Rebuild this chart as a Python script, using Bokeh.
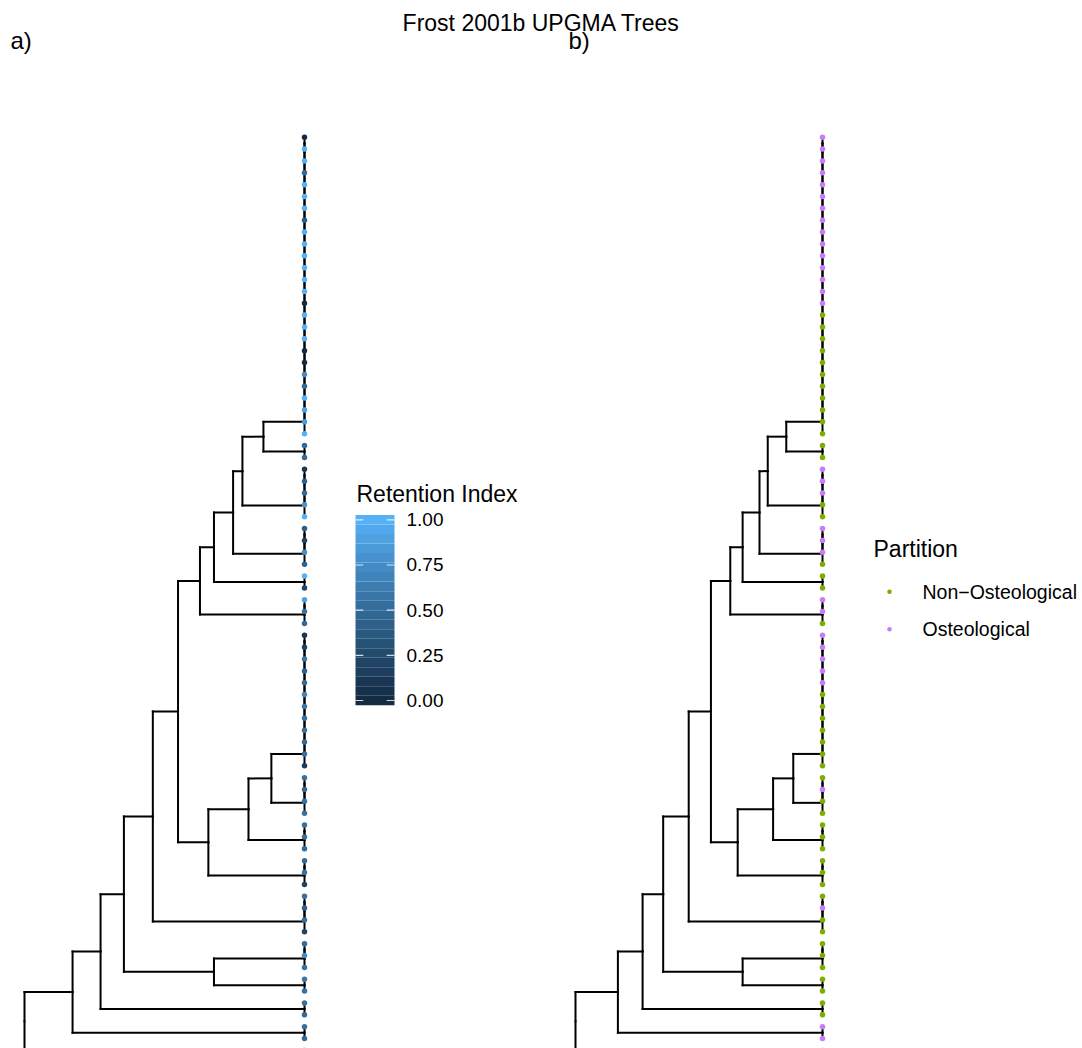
import numpy as np
from bokeh.plotting import figure
from bokeh.layouts import column, row
from bokeh.models import Range1d, ColumnDataSource
from bokeh.core.properties import value
from bokeh.embed import file_html
from bokeh.resources import INLINE

FONT = "Liberation Sans"

# ---- data -------------------------------------------------------------
# per-tip values, tips listed top to bottom (last tip falls below the frame)
retention_index = [
    0.00, 1.00, 1.00, 0.50, 1.00, 1.00, 1.00, 0.40, 1.00, 1.00,
    1.00, 1.00, 1.00, 1.00, 0.00, 1.00, 1.00, 1.00, 0.00, 0.00,
    0.75, 0.50, 1.00, 0.90, 0.85, 1.00, 0.50, 0.50, 0.10, 0.45,
    0.50, 0.80, 1.00, 0.40, 0.20, 0.75, 0.45, 1.00, 0.20, 0.90,
    0.55, 0.50, 0.10, 0.20, 0.60, 0.45, 0.50, 0.70, 0.60, 0.55,
    0.55, 0.50, 0.55, 0.15, 0.55, 0.50, 0.55, 0.55, 0.55, 0.55,
    0.50, 0.50, 0.55, 0.20, 0.55, 0.45, 0.55, 0.20, 0.50, 0.75,
    0.55, 0.60, 0.55, 0.55, 0.50, 0.55, 0.50, 0.50,
]
N, O = "Non\u2212Osteological", "Osteological"
partition = (
    [O] * 15 + [N] * 13 + [O] * 3 + [N] * 2 + [O] * 3 + [N] * 3 + [O] * 2
    + [N] + [O] * 5 + [N] * 8 + [O] + [N] * 9 + [O] + [N] * 9 + [O] * 3
)

# tip clusters joined at zero distance: (first tip, last tip)
clusters = [(0, 25), (26, 27), (28, 32), (33, 36), (37, 38), (39, 41),
            (42, 53), (54, 57), (58, 60), (61, 63), (64, 67), (68, 70),
            (71, 72), (73, 74), (75, 76), (77, 77)]

# UPGMA joins: (child, child, height); "c#" = cluster, "n#" = earlier join
joins = [
    ("c0", "c1", 0.088),   # n0
    ("n0", "c2", 0.133),   # n1
    ("n1", "c3", 0.153),   # n2
    ("n2", "c4", 0.194),   # n3
    ("n3", "c5", 0.224),   # n4
    ("c6", "c7", 0.071),   # n5
    ("n5", "c8", 0.120),   # n6
    ("n6", "c9", 0.206),   # n7
    ("n4", "n7", 0.271),   # n8
    ("n8", "c10", 0.325),  # n9
    ("c11", "c12", 0.194), # n10
    ("n9", "n10", 0.387),  # n11
    ("n11", "c13", 0.437), # n12
    ("n12", "c14", 0.497), # n13
    ("n13", "c15", 0.600), # n14 (root)
]

ri_breaks = [0.0, 0.25, 0.5, 0.75, 1.0]
partition_levels = [N, O]
partition_colors = ["#7CAE00", "#C77CFF"]
ri_low, ri_high = "#132B43", "#56B1F7"


# ---- colour helpers (Lab interpolation, as in a ggplot gradient) ------
def _to_lab(hexc):
    rgb = np.array([int(hexc[i:i + 2], 16) / 255 for i in (1, 3, 5)])
    lin = np.where(rgb <= 0.04045, rgb / 12.92, ((rgb + 0.055) / 1.055) ** 2.4)
    m = np.array([[0.4124, 0.3576, 0.1805], [0.2126, 0.7152, 0.0722],
                  [0.0193, 0.1192, 0.9505]])
    xyz = m @ lin / np.array([0.95047, 1.0, 1.08883])
    f = np.where(xyz > 0.008856, np.cbrt(xyz), 7.787 * xyz + 16 / 116)
    return np.array([116 * f[1] - 16, 500 * (f[0] - f[1]), 200 * (f[1] - f[2])])


def _from_lab(lab):
    fy = (lab[0] + 16) / 116
    fx = fy + lab[1] / 500
    fz = fy - lab[2] / 200
    f = np.array([fx, fy, fz])
    xyz = np.where(f ** 3 > 0.008856, f ** 3, (f - 16 / 116) / 7.787)
    xyz = xyz * np.array([0.95047, 1.0, 1.08883])
    minv = np.array([[3.2406, -1.5372, -0.4986], [-0.9689, 1.8758, 0.0415],
                     [0.0557, -0.2040, 1.0570]])
    lin = minv @ xyz
    rgb = np.where(lin <= 0.0031308, 12.92 * lin, 1.055 * np.abs(lin) ** (1 / 2.4) - 0.055)
    rgb = np.clip(rgb, 0, 1)
    return "#%02x%02x%02x" % tuple(int(round(c * 255)) for c in rgb)


LAB_LO, LAB_HI = _to_lab(ri_low), _to_lab(ri_high)


def ri_color(v):
    return _from_lab(LAB_LO + (LAB_HI - LAB_LO) * float(v))


# ---- tree layout ------------------------------------------------------
def tree_segments():
    seg = dict(x0=[], y0=[], x1=[], y1=[])

    def add(x0, y0, x1, y1):
        seg["x0"].append(x0); seg["y0"].append(y0)
        seg["x1"].append(x1); seg["y1"].append(y1)

    pos = {}
    for k, (a, b) in enumerate(clusters):
        y = float(a)
        for t in range(a + 1, b + 1):
            ny = (y + t) / 2
            add(0.0, y, 0.0, ny)
            add(0.0, float(t), 0.0, ny)
            y = ny
        pos[f"c{k}"] = (0.0, y)
    for k, (l, r, h) in enumerate(joins):
        y = (pos[l][1] + pos[r][1]) / 2
        for c in (l, r):
            cx, cy = pos[c]
            add(h, cy, h, y)
            add(h, cy, cx, cy)
        pos[f"n{k}"] = (h, y)
    return seg


SEG = tree_segments()
TIPS = list(range(len(retention_index)))

# ---- page geometry -----------------------------------------------------
HEAD_H = 60
BODY_H = 1048 - HEAD_H
TIP0_PX = 136.7 - HEAD_H      # first tip, from top of panel
TIP_STEP = 11.86              # pixels between tips
ROOT_H = joins[-1][2]

y_tree = Range1d(start=(BODY_H - TIP0_PX) / TIP_STEP, end=-TIP0_PX / TIP_STEP)


def base_fig(w, h, xr, yr):
    p = figure(width=w, height=h, x_range=xr, y_range=yr,
               output_backend="svg", toolbar_location=None,
               min_border=0, outline_line_color=None,
               background_fill_color="white", border_fill_color="white")
    p.axis.visible = False
    p.grid.visible = False
    return p


def tree_fig(w, tip_px, root_px, colors):
    scale = (tip_px - root_px) / ROOT_H
    xr = Range1d(start=tip_px / scale, end=(tip_px - w) / scale)
    p = base_fig(w, BODY_H, xr, y_tree)
    p.segment(x0="x0", y0="y0", x1="x1", y1="y1", source=ColumnDataSource(SEG),
              line_color="black", line_width=2, line_cap="square")
    p.scatter(x=[0.0] * len(TIPS), y=TIPS, size=5.5, fill_color=colors,
              line_color=None)
    return p


def txt(p, x, y, s, size, align="left", **kw):
    p.text(x=[x], y=[y], text=[s], text_font=value(FONT),
           text_font_size=value(f"{size}px"), text_color="black",
           text_align=align, text_baseline="middle", **kw)


# ---- header ---------------------------------------------------------------
head = base_fig(1082, HEAD_H, Range1d(0, 1082), Range1d(HEAD_H, 0))
txt(head, 541, 22, "Frost 2001b UPGMA Trees", 23, align="center")
txt(head, 10, 40, "a)", 24)
txt(head, 568, 40, "b)", 24)

# ---- panel a: retention index -----------------------------------------
A_W, LA_W = 340, 201
tree_a = tree_fig(A_W, 304, 24, [ri_color(v) for v in retention_index])

leg_a = base_fig(LA_W, BODY_H, Range1d(0, LA_W), Range1d(BODY_H, 0))
RI0_PX, RI1_PX = 700 - HEAD_H, 519.3 - HEAD_H
per_px = 1.0 / (RI0_PX - RI1_PX)
leg_a.extra_y_ranges = {"ri": Range1d(start=-(BODY_H - RI0_PX) * per_px,
                                      end=1 + RI1_PX * per_px)}
nbin = 20
vals = np.linspace(0, 1, nbin)
half = 0.5 / (nbin - 1)
BAR_L, BAR_R = 15, 54
leg_a.quad(left=BAR_L, right=BAR_R, bottom=vals - half, top=vals + half,
           fill_color=[ri_color(v) for v in vals], line_color=None,
           y_range_name="ri")
tick_len = (BAR_R - BAR_L) / 5
leg_a.segment(x0=[BAR_L] * 5, x1=[BAR_L + tick_len] * 5, y0=ri_breaks, y1=ri_breaks,
              line_color="white", line_alpha=0.8, line_width=1.2, y_range_name="ri")
leg_a.segment(x0=[BAR_R - tick_len] * 5, x1=[BAR_R] * 5, y0=ri_breaks, y1=ri_breaks,
              line_color="white", line_alpha=0.8, line_width=1.2, y_range_name="ri")
leg_a.text(x=[66] * 5, y=ri_breaks, text=[f"{b:.2f}" for b in ri_breaks],
           text_font=value(FONT), text_font_size=value("19px"),
           text_baseline="middle", text_align="left", y_range_name="ri")
txt(leg_a, 16, 493 - HEAD_H, "Retention Index", 23)

# ---- panel b: partition ------------------------------------------------
B_W, LB_W = 320, 221
pcol = dict(zip(partition_levels, partition_colors))
tree_b = tree_fig(B_W, 822 - 541, 575 - 541, [pcol[s] for s in partition])

leg_b = base_fig(LB_W, BODY_H, Range1d(0, LB_W), Range1d(BODY_H, 0))
txt(leg_b, 12, 548 - HEAD_H, "Partition", 23)
key_y = [591.3 - HEAD_H, 628.7 - HEAD_H]
leg_b.scatter(x=[28, 28], y=key_y, size=4.5, fill_color=partition_colors,
              line_color=None)
leg_b.text(x=[61, 61], y=key_y, text=partition_levels, text_font=value(FONT),
           text_font_size=value("19.5px"), text_baseline="middle", text_align="left")

layout = column(head, row(tree_a, leg_a, tree_b, leg_b))
open("out.html", "w").write(file_html(layout, INLINE))
